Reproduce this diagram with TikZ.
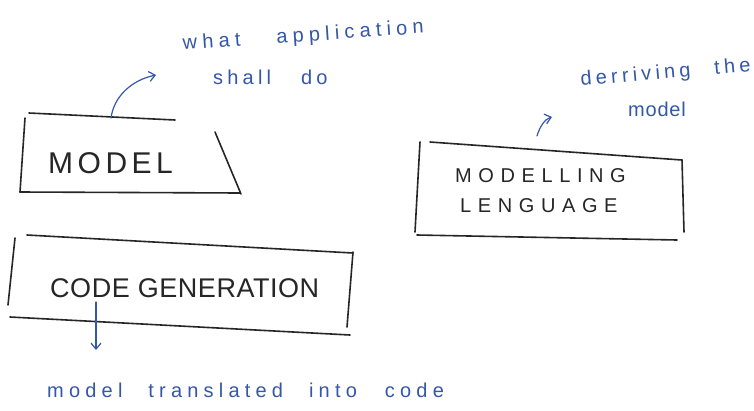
\documentclass[tikz,border=0pt]{standalone}
\usepackage{fontspec}
\usetikzlibrary{arrows.meta}
\newfontfamily\handfont[LetterSpace=21]{Liberation Sans}
\newfontfamily\handwide[LetterSpace=26]{Liberation Sans}
\newfontfamily\handtight[LetterSpace=4]{Liberation Sans}
\newfontfamily\capsmodel[LetterSpace=15]{Liberation Sans}
\newfontfamily\capscode[LetterSpace=2]{Liberation Sans}
\newfontfamily\capslang[LetterSpace=33]{Liberation Sans}
\newcommand\wordgap[1]{\hspace{#1pt}}
\definecolor{ink}{RGB}{38,38,38}
\definecolor{pen}{RGB}{52,88,168}
\tikzset{
  sketch/.style={draw=ink, line width=1.6pt, line cap=round},
  note/.style={text=pen, inner sep=0pt, anchor=base west, font=\handfont\fontsize{20}{24}\selectfont},
  boxlabel/.style={text=ink, inner sep=0pt, anchor=base west},
  penarrow/.style={draw=pen, line width=1.2pt, line cap=round, -{Straight Barb[length=6pt,width=10pt]}}
}
\begin{document}
\begin{tikzpicture}[x=1pt,y=-1pt]
\useasboundingbox[fill=white] (0,0) rectangle (754,410);

% MODEL box
\draw[sketch] (29,113) -- (175,120);
\draw[sketch] (25,118) -- (20,192);
\draw[sketch] (20,192) -- (240,193);
\draw[sketch] (215,132) -- (241,194);
\node[boxlabel, font=\capsmodel\fontsize{30}{34}\selectfont] (model) at (48,173) {MODEL};

% MODELLING LENGUAGE box
\draw[sketch] (420,142) -- (415,232);
\draw[sketch] (430,142) -- (682,160);
\draw[sketch] (682,160) -- (684,232);
\draw[sketch] (417,235) -- (677,240);
\node[boxlabel, font=\capslang\fontsize{20}{24}\selectfont] (lang1) at (455,182) {MODELLING};
\node[boxlabel, font=\capslang\fontsize{20}{24}\selectfont] (lang2) at (460,212) {LENGUAGE};

% CODE GENERATION box
\draw[sketch] (27,235) -- (353,253);
\draw[sketch] (15,238) -- (8,305);
\draw[sketch] (10,317) -- (350,335);
\draw[sketch] (353,252) -- (347,327);
\node[boxlabel, font=\capscode\fontsize{27}{31}\selectfont] (codegen) at (50,297) {CODE GENERATION};

% annotations
\node[note, font=\handwide\fontsize{20}{24}\selectfont, rotate=4] (app1) at (183,50) {what\wordgap{36}application};
\node[note] (app2) at (213,84) {shall\wordgap{30}do};
\node[note, rotate=5] (der1) at (581,86) {derriving\wordgap{24}the};
\node[note, font=\handtight\fontsize{20}{24}\selectfont] (der2) at (628,116) {model};
\node[note, font=\handwide\fontsize{20}{24}\selectfont] (trans) at (47,397) {model\wordgap{26}translated\wordgap{26}into\wordgap{28}code};

% annotation arrows
\coordinate (mtop) at (111,118);
\coordinate (mtip) at (156,75);
\draw[penarrow] (mtop) .. controls (114,96) and (132,80) .. (mtip);

\coordinate (ltail) at (537,136);
\coordinate (ltip) at (552,117);
\draw[penarrow] (ltail) .. controls (540,126) and (545,119) .. (ltip);

\coordinate (ctop) at (96,302);
\coordinate (ctip) at (96,350);
\draw[penarrow] (ctop) -- (ctip);
\end{tikzpicture}
\end{document}
